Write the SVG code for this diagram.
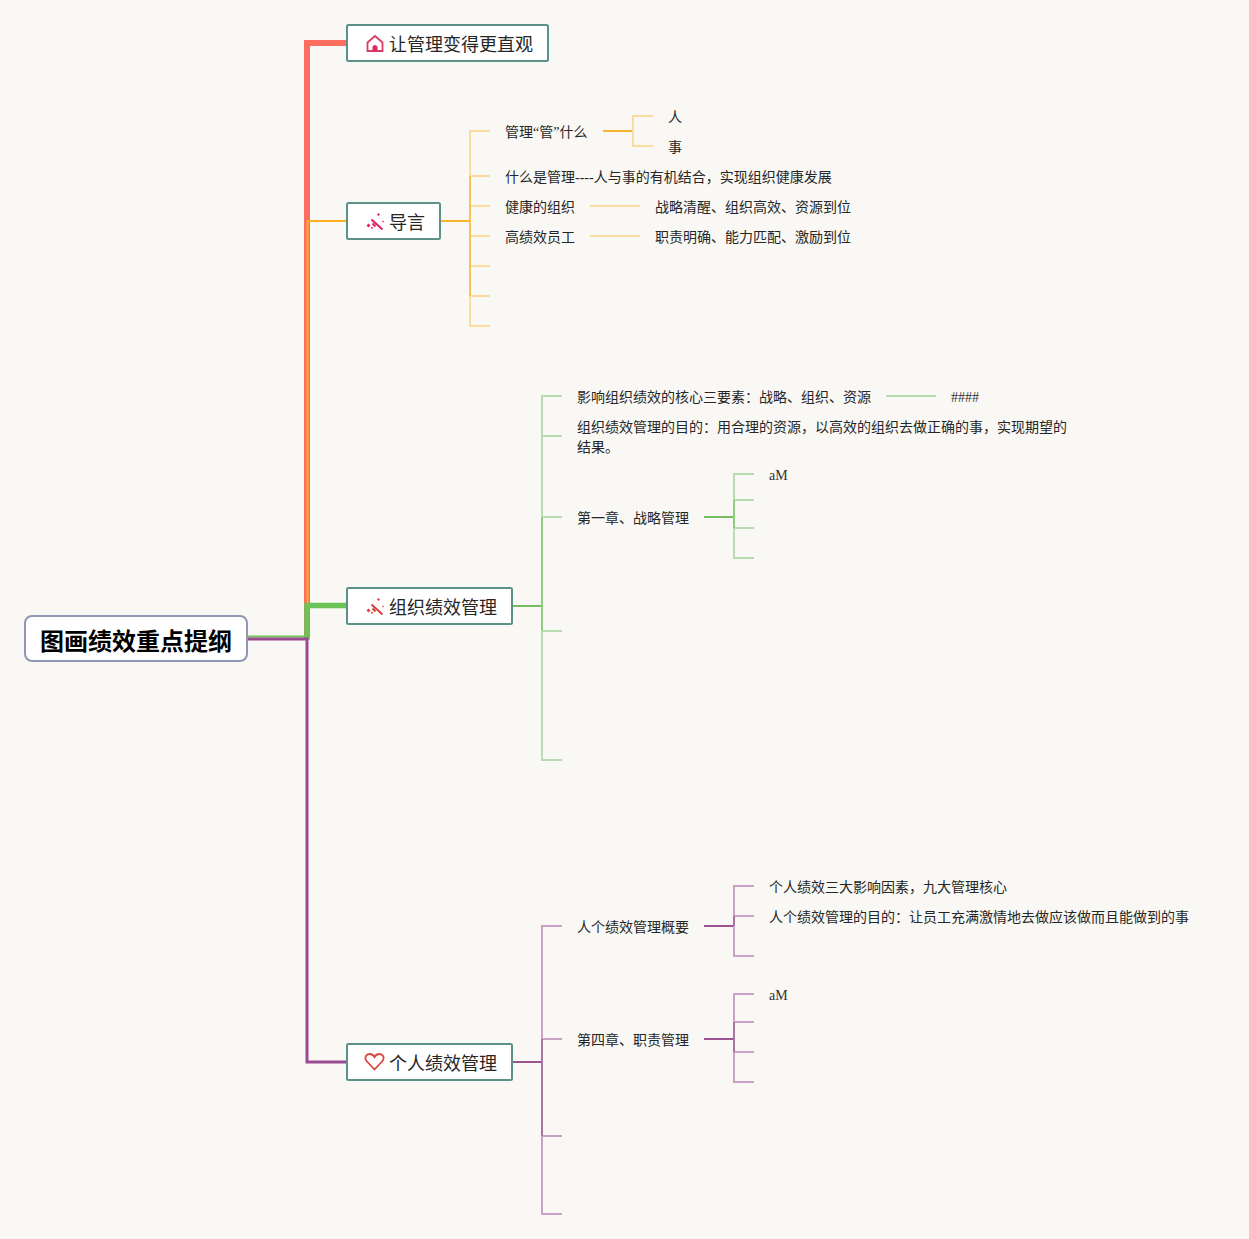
<svg xmlns="http://www.w3.org/2000/svg" width="1249" height="1239" viewBox="0 0 1249 1239">
<style>
text{font-family:"Noto Sans CJK SC","Liberation Sans",sans-serif;fill:#262626}
.t{font-size:14px}
.m{font-size:18px}
.s{font-family:"Liberation Serif","Noto Sans CJK SC",serif}
.l{font-family:"Liberation Serif","Noto Sans CJK SC",serif;font-size:14px;fill:#333}
.box{fill:#fff;stroke:#5b9189;stroke-width:2}
path{fill:none}
.o1{stroke:#f8c35a;stroke-width:2}
.o2{stroke:#fbdb9f;stroke-width:2}
.o0{stroke:#f9b52a;stroke-width:2}
.g0{stroke:#74bd62;stroke-width:2}
.g1{stroke:#8fcb80;stroke-width:2}
.g2{stroke:#b9dcae;stroke-width:2}
.p0{stroke:#9a5592;stroke-width:2}
.p1{stroke:#a973a2;stroke-width:2}
.p2{stroke:#c9a1c4;stroke-width:2}
.w1{stroke:#e0245e;stroke-width:2}
.f1{fill:#e0245e;stroke:none}
.w2{stroke:#d8423c;stroke-width:2}
.f2{fill:#d8423c;stroke:none}
</style>
<rect width="1249" height="1239" fill="#f9f8f4"/>
<g id="connectors">
<path d="M347 43H307V638" stroke="#fb6d5e" stroke-width="6"/>
<path d="M347 221H307.500V605" stroke="#ffb020" stroke-width="2"/>
<path d="M248 636.500H307" stroke="#6cc257" stroke-width="2"/>
<path d="M347 605.500H307V640" stroke="#6cc257" stroke-width="5.500"/>
<path d="M248 639H307V1062H347" stroke="#9b4a92" stroke-width="3"/>
<path class="o0" d="M441 221H470"/>
<path class="o2" d="M490 131H470V326H490M470 176H490M470 206H490M470 236H490M470 266H490M470 296H490"/>
<path class="o1" d="M470 176V296"/>
<path class="o0" d="M603 131H633"/>
<path class="o2" d="M653 116H633V146H653"/>
<path class="o2" d="M590 206H640M590 236H640"/>
<path class="g0" d="M513 606H542"/>
<path class="g2" d="M562 396H542V760H562M542 436H562M542 517H562M542 631H562"/>
<path class="g1" d="M542 517V631"/>
<path class="g2" d="M886 396H936"/>
<path class="g0" d="M704 517H734"/>
<path class="g2" d="M754 474H734V558H754M734 500H754M734 528H754"/>
<path class="g1" d="M734 500V528"/>
<path class="p0" d="M513 1062H542"/>
<path class="p2" d="M562 926H542V1214H562M542 1039H562M542 1136H562"/>
<path class="p1" d="M542 1039V1136"/>
<path class="p0" d="M704 926H734M704 1039H734"/>
<path class="p2" d="M754 886H734V956H754M734 916H754"/>
<path class="p1" d="M734 916V926"/>
<path class="p2" d="M754 994H734V1082H754M734 1022H754M734 1052H754"/>
<path class="p1" d="M734 1022V1052"/>
</g>
<g id="root"><rect x="25" y="616" width="222" height="45" rx="7" fill="#fff" stroke="#8f97b3" stroke-width="2"/><text x="40" y="650" font-size="24" font-weight="700" style="fill:#000">图画绩效重点提纲</text></g>
<g id="n1"><rect class="box" x="347" y="25" width="201" height="36" rx="1.500"/>
<path d="M367.500 51V42.500L375 36L382.500 42.500V51H367.500Z" stroke="#dc3c63" stroke-width="1.800"/><path d="M372.500 51V46.500Q375 43.500 377.500 46.500V51Z" style="fill:#dc2a5c"/>
<text class="m" x="389" y="51">让管理变得更直观</text></g>
<g id="n2"><rect class="box" x="347" y="203" width="93" height="36" rx="1.500"/>
<path class="w1" d="M371.500 219.500L382.500 229.500M372.500 223.500L375.500 226.500"/>
<path class="f1" d="M368.500 223.500l2 2-2 2-2-2zM378.500 213l1.500 1.500-1.500 1.500-1.500-1.500zM383 220.500l1 1-1 1-1-1zM372 226.500l1.200 1.200-1.200 1.200-1.200-1.200z"/>
<text class="m" x="389" y="229">导言</text></g>
<g id="n3"><rect class="box" x="347" y="588" width="165" height="36" rx="1.500"/>
<path class="w2" d="M371.500 604.500L382.500 614.500M372.500 608.500L375.500 611.500"/>
<path class="f2" d="M368.500 608.500l2 2-2 2-2-2zM378.500 598l1.500 1.500-1.500 1.500-1.500-1.500zM383 605.500l1 1-1 1-1-1zM372 611.500l1.200 1.200-1.200 1.200-1.200-1.200z"/>
<text class="m" x="389" y="614">组织绩效管理</text></g>
<g id="n4"><rect class="box" x="347" y="1044" width="165" height="36" rx="1.500"/>
<path d="M374.500 1069.500L367 1061.500C363.500 1057 366.500 1054 369.500 1054C372 1054 373.500 1055 374.500 1057C375.500 1055 377 1054 379.500 1054C382.500 1054 385.500 1057 382 1061.500Z" stroke="#d9483f" stroke-width="1.800"/>
<text class="m" x="389" y="1070">个人绩效管理</text></g>
<g id="intro-items">
<text class="t" x="505" y="137">管理<tspan class="s">“</tspan>管<tspan class="s">”</tspan>什么</text>
<text class="t" x="668" y="122">人</text>
<text class="t" x="668" y="152">事</text>
<text class="t" x="505" y="182">什么是管理<tspan class="s">----</tspan>人与事的有机结合，实现组织健康发展</text>
<text class="t" x="505" y="212">健康的组织</text>
<text class="t" x="655" y="212">战略清醒、组织高效、资源到位</text>
<text class="t" x="505" y="242">高绩效员工</text>
<text class="t" x="655" y="242">职责明确、能力匹配、激励到位</text>
</g>
<g id="org-items">
<text class="t" x="577" y="402">影响组织绩效的核心三要素：战略、组织、资源</text>
<text class="l" x="951" y="402">####</text>
<text class="t" x="577" y="432">组织绩效管理的目的：用合理的资源，以高效的组织去做正确的事，实现期望的</text>
<text class="t" x="577" y="452">结果。</text>
<text class="t" x="577" y="523">第一章、战略管理</text>
<text class="l" x="769" y="480">aM</text>
</g>
<g id="person-items">
<text class="t" x="577" y="932">人个绩效管理概要</text>
<text class="t" x="769" y="892">个人绩效三大影响因素，九大管理核心</text>
<text class="t" x="769" y="922">人个绩效管理的目的：让员工充满激情地去做应该做而且能做到的事</text>
<text class="t" x="577" y="1045">第四章、职责管理</text>
<text class="l" x="769" y="1000">aM</text>
</g>
</svg>
